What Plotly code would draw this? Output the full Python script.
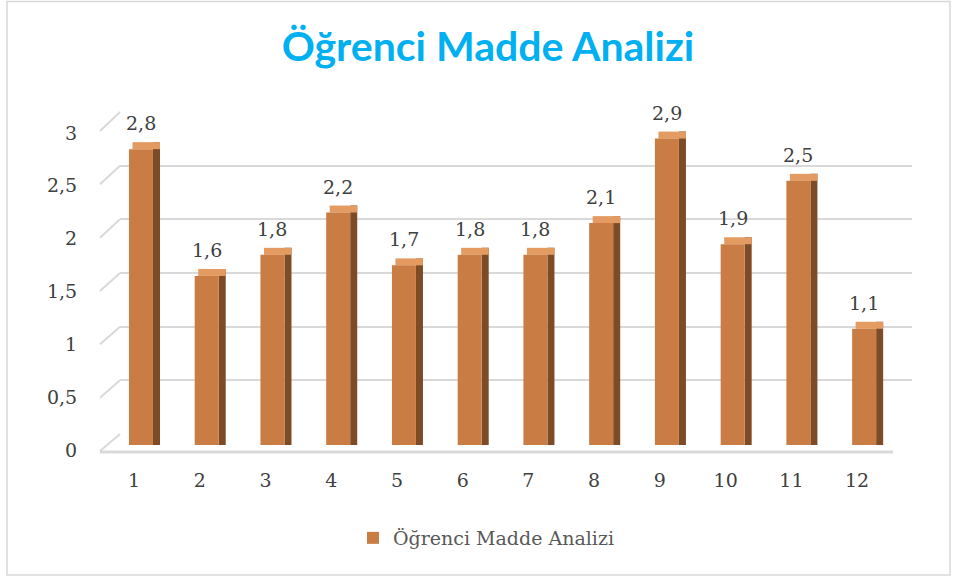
import plotly.graph_objects as go

# ---- data ----
categories = ["1", "2", "3", "4", "5", "6", "7", "8", "9", "10", "11", "12"]
values = [2.8, 1.6, 1.8, 2.2, 1.7, 1.8, 1.8, 2.1, 2.9, 1.9, 2.5, 1.1]
y_ticks = [0, 0.5, 1, 1.5, 2, 2.5, 3]
series_name = "Öğrenci Madde Analizi"
title_text = "Öğrenci Madde Analizi"

# ---- geometry of the pseudo-3D frame (pixels) ----
W, H = 961, 578
L, R, T, B = 100, 912, 112, 452
pw, ph = R - L, B - T


def px_x(p):
    return (p - L) / pw


def px_y(p):
    return (B - p) / ph


FACE_W = 0.365
SIDE_W = 0.107
DEPTH = 0.066

FRONT_C = "#C97C44"
SIDE_C = "#7E4B27"
TOP_C = "#E39B62"
GRID_C = "#D9D9D9"
TXT_C = "#404040"
SERIF = "DejaVu Serif"

fig = go.Figure()

# back-wall grid subplot (x / y)
fig.add_trace(go.Scatter(x=[None], y=[None], xaxis="x", yaxis="y",
                         showlegend=False, hoverinfo="skip"))

# bars subplot (x2 / y2)
fig.add_trace(go.Bar(x=categories, y=[v + DEPTH for v in values], base=0,
                     width=SIDE_W, offset=FACE_W / 2, marker_color=SIDE_C,
                     marker_line_width=0, xaxis="x2", yaxis="y2",
                     showlegend=False, hoverinfo="skip"))
fig.add_trace(go.Bar(x=categories, y=[DEPTH for v in values], base=values,
                     width=FACE_W + SIDE_W / 2, offset=-FACE_W / 2 + SIDE_W / 2,
                     marker_color=TOP_C, marker_line_width=0,
                     xaxis="x2", yaxis="y2", showlegend=False, hoverinfo="skip"))
fig.add_trace(go.Bar(x=categories, y=values, width=FACE_W, offset=-FACE_W / 2,
                     marker_color=FRONT_C, marker_line_width=0,
                     name=series_name, xaxis="x2", yaxis="y2"))

annotations = []
for i, v in enumerate(values):
    annotations.append(dict(x=i, y=v, xref="x2", yref="y2", yshift=26,
                            text=f"{v:.1f}".replace(".", ","), showarrow=False,
                            font=dict(family=SERIF, size=19, color=TXT_C)))

# decorative frame: floor edge, left wall diagonals, outer border
FRONT0, FRONT3 = 451, 131
BACK0, BACK3 = 434, 112
shapes = []
for t in y_ticks:
    fy = FRONT0 + (FRONT3 - FRONT0) * t / 3
    by = BACK0 + (BACK3 - BACK0) * t / 3
    shapes.append(dict(type="line", xref="paper", yref="paper",
                       x0=px_x(100), y0=px_y(fy), x1=px_x(120), y1=px_y(by),
                       line=dict(color=GRID_C, width=2), layer="below"))
shapes.append(dict(type="line", xref="paper", yref="paper",
                   x0=px_x(100), y0=px_y(452), x1=px_x(893), y1=px_y(452),
                   line=dict(color=GRID_C, width=3), layer="below"))
shapes.append(dict(type="rect", xref="paper", yref="paper",
                   x0=px_x(7), y0=px_y(575), x1=px_x(950), y1=px_y(1.5),
                   line=dict(color=GRID_C, width=1.5), layer="below"))

fig.update_layout(
    width=W, height=H,
    margin=dict(l=L, r=W - R, t=T, b=H - B, pad=0),
    paper_bgcolor="white", plot_bgcolor="rgba(0,0,0,0)",
    separators=",.",
    barmode="overlay",
    title=dict(text=title_text, xref="container", x=488 / W, xanchor="center",
               yref="container", y=1 - 47 / H, yanchor="middle",
               font=dict(family="Lato", size=41, color="#00B0F0", weight="bold")),
    xaxis=dict(domain=[px_x(120), 1], range=[0, 1], visible=False),
    yaxis=dict(domain=[px_y(BACK0), px_y(BACK3)], range=[0, 3], tickvals=y_ticks,
               showgrid=True, gridcolor=GRID_C, gridwidth=2, zeroline=False,
               showticklabels=False, showline=False, anchor="x"),
    xaxis2=dict(domain=[px_x(108.1), px_x(897)], range=[-0.5, 11.5], type="category",
                anchor="y2", showgrid=False, zeroline=False, showline=False,
                ticks="", tickfont=dict(family=SERIF, size=19, color=TXT_C),
                ticklabelshift=-7, ticklabelstandoff=22),
    yaxis2=dict(domain=[px_y(445), px_y(128)], range=[0, 3], tickvals=y_ticks,
                anchor="x2", showgrid=False, zeroline=False, showline=False,
                ticks="", tickfont=dict(family=SERIF, size=19, color=TXT_C),
                ticklabelstandoff=30, ticklabelshift=5),
    legend=dict(orientation="h", xref="container", yref="container",
                x=486 / W, xanchor="center", y=1 - 538 / H, yanchor="middle",
                font=dict(family=SERIF, size=19, color="#595959"),
                itemwidth=30),
    annotations=annotations,
    shapes=shapes,
    showlegend=True,
)

fig.write_html("out.html", config={"displayModeBar": False},
               post_script="document.body.style.margin='0';document.body.style.overflow='hidden';")
